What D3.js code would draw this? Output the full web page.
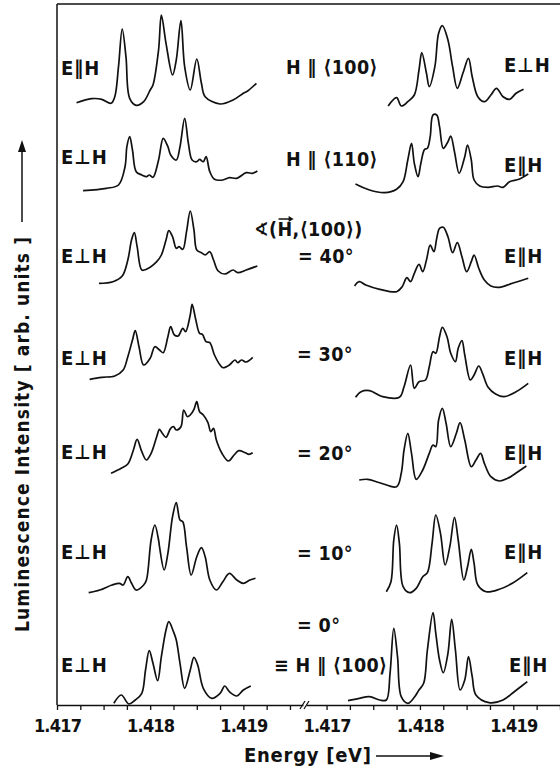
<!DOCTYPE html>
<html><head><meta charset="utf-8">
<script src="https://cdn.jsdelivr.net/npm/d3@7"></script>
<style>
html,body{margin:0;padding:0;background:#fff;}
svg{display:block;}
.t{font-family:"Liberation Sans Narrow","DejaVu Sans Condensed","Arial Narrow","Liberation Sans",sans-serif;font-weight:bold;fill:#111;}
</style></head>
<body>
<script>
// ---------- DATA (energy in eV, intensity in arb. units) ----------
// Left column, rows top (1) to bottom (7)
const enL1=[1.41721,1.41737,1.41748,1.41758,1.41762,1.41766,1.41770,1.41774,1.41778,1.41785,1.41793,1.41800,1.41803,1.41809,1.41812,1.41817,1.41824,1.41828,1.41833,1.41837,1.41843,1.41850,1.41855,1.41859,1.41875,1.41889,1.41900,1.41905,1.41914];
const inL1=[0.23,0.63,0.57,0.17,0.83,3.83,7.6,4.83,0.67,-0.03,0.33,1.5,2.0,5.5,9.0,6.17,3.0,4.5,8.43,3.83,1.5,4.6,2.17,0.83,0.1,0.5,1.17,1.43,2.17];
const enL2=[1.41728,1.41753,1.41766,1.41773,1.41775,1.41778,1.41781,1.41785,1.41791,1.41796,1.41799,1.41803,1.41809,1.41814,1.41819,1.41822,1.41828,1.41832,1.41837,1.41841,1.41845,1.41850,1.41853,1.41857,1.41860,1.41864,1.41869,1.41878,1.41885,1.41893,1.41903,1.41910,1.41915];
const inL2=[1.43,1.67,2.0,3.83,5.83,6.83,5.5,3.33,3.0,2.83,3.0,2.77,4.5,6.67,5.83,5.0,4.5,5.83,8.67,6.17,4.5,4.33,4.57,4.33,4.83,3.33,2.57,2.5,2.73,2.67,3.23,3.17,3.4];
const enL3=[1.41745,1.41760,1.41770,1.41776,1.41780,1.41783,1.41786,1.41791,1.41796,1.41807,1.41812,1.41817,1.41820,1.41824,1.41828,1.41831,1.41835,1.41839,1.41843,1.41847,1.41850,1.41855,1.41859,1.41864,1.41868,1.41873,1.41880,1.41889,1.41894,1.41903,1.41915];
const inL3=[2.17,2.33,2.9,4.5,6.5,7.23,5.83,3.5,3.57,4.33,5.0,6.5,7.43,6.83,5.67,5.83,5.57,7.33,9.4,7.5,5.5,5.23,5.0,5.33,4.5,3.4,3.1,3.5,3.23,3.5,3.9];
const enL4=[1.41735,1.41748,1.41762,1.41771,1.41776,1.41781,1.41784,1.41788,1.41793,1.41800,1.41805,1.41810,1.41814,1.41819,1.41822,1.41826,1.41830,1.41835,1.41838,1.41843,1.41845,1.41849,1.41853,1.41856,1.41860,1.41864,1.41869,1.41875,1.41878,1.41885,1.41891,1.41894,1.41898,1.41903,1.41910];
const inL4=[2.57,2.77,2.9,3.5,4.83,6.5,7.43,5.83,4.0,4.67,5.83,5.5,5.23,6.83,7.83,7.0,6.9,7.67,7.33,9.0,10.07,8.5,7.17,7.07,6.33,6.23,5.0,4.0,3.73,4.0,4.5,4.23,4.5,4.3,4.77];
const enL5=[1.41758,1.41769,1.41776,1.41782,1.41786,1.41791,1.41796,1.41801,1.41807,1.41810,1.41813,1.41817,1.41822,1.41825,1.41828,1.41833,1.41836,1.41840,1.41843,1.41847,1.41850,1.41853,1.41857,1.41862,1.41865,1.41868,1.41871,1.41877,1.41884,1.41890,1.41895,1.41902,1.41906,1.41910];
const inL5=[3.17,3.67,4.1,5.5,6.57,5.33,4.5,5.17,6.83,7.57,7.17,6.77,7.67,7.83,7.5,7.83,9.5,8.83,9.0,9.57,10.33,9.33,9.0,8.23,7.33,7.67,6.5,5.17,4.4,5.0,5.43,5.23,5.07,5.23];
const enL6=[1.41734,1.41746,1.41759,1.41767,1.41771,1.41776,1.41780,1.41785,1.41793,1.41796,1.41801,1.41805,1.41809,1.41810,1.41815,1.41819,1.41824,1.41828,1.41832,1.41835,1.41839,1.41844,1.41850,1.41855,1.41859,1.41864,1.41871,1.41878,1.41885,1.41893,1.41900,1.41907,1.41913];
const inL6=[1.23,1.5,2.0,2.17,2.0,2.83,2.17,1.5,2.0,2.5,6.5,8.0,6.5,5.83,3.5,5.17,8.83,10.23,8.5,8.33,5.83,3.0,4.83,5.73,4.83,2.5,1.5,2.33,3.17,2.5,2.17,2.5,2.67];
const enL7=[1.41761,1.41769,1.41777,1.41784,1.41791,1.41795,1.41799,1.41803,1.41808,1.41812,1.41817,1.41820,1.41825,1.41828,1.41832,1.41837,1.41843,1.41847,1.41851,1.41857,1.41866,1.41875,1.41880,1.41885,1.41893,1.41900,1.41908];
const inL7=[0.17,1.0,0.1,0.5,1.17,3.5,5.43,4.17,2.43,4.83,7.5,8.33,7.33,6.5,4.17,1.67,3.5,4.77,4.0,1.67,0.67,1.17,1.9,1.33,0.9,1.5,1.9];
// Right column
const enR1=[1.41766,1.41775,1.41780,1.41787,1.41794,1.41799,1.41802,1.41807,1.41810,1.41816,1.41820,1.41824,1.41830,1.41835,1.41840,1.41846,1.41852,1.41856,1.41862,1.41869,1.41876,1.41882,1.41889,1.41896,1.41903,1.41911];
const inR1=[-0.1,0.73,-0.1,0.33,1.0,3.5,5.23,3.17,1.83,3.83,7.17,7.93,6.5,3.83,1.67,3.17,4.67,2.83,0.83,0.33,1.0,1.67,0.83,0.57,1.17,1.57];
const enR2=[1.41731,1.41746,1.41762,1.41775,1.41782,1.41787,1.41791,1.41794,1.41798,1.41801,1.41805,1.41808,1.41811,1.41814,1.41818,1.41821,1.41825,1.41830,1.41833,1.41837,1.41842,1.41848,1.41851,1.41855,1.41858,1.41864,1.41873,1.41883,1.41889,1.41896,1.41906,1.41916];
const inR2=[2.1,1.5,1.23,1.57,2.33,4.5,6.17,4.17,2.83,4.17,5.57,5.67,6.83,9.0,9.0,7.83,5.67,6.33,6.9,5.33,3.17,4.83,6.0,4.5,2.5,1.9,1.77,1.9,1.77,2.33,2.57,3.1];
const enR3=[1.41730,1.41735,1.41742,1.41757,1.41775,1.41781,1.41786,1.41790,1.41794,1.41799,1.41803,1.41807,1.41811,1.41815,1.41818,1.41821,1.41825,1.41830,1.41835,1.41840,1.41845,1.41850,1.41855,1.41858,1.41863,1.41869,1.41876,1.41885,1.41899,1.41916];
const inR3=[1.9,2.33,2.0,1.57,1.33,1.83,2.73,2.33,3.17,4.07,3.33,4.5,6.0,5.33,6.67,7.67,7.77,6.83,5.23,6.23,4.83,3.33,4.33,5.0,3.67,2.5,1.9,1.77,2.17,2.67];
const enR4=[1.41731,1.41737,1.41746,1.41760,1.41778,1.41783,1.41790,1.41794,1.41799,1.41806,1.41810,1.41814,1.41817,1.41821,1.41824,1.41829,1.41833,1.41838,1.41841,1.41845,1.41848,1.41854,1.41858,1.41863,1.41867,1.41873,1.41881,1.41890,1.41903,1.41916];
const inR4=[0.77,1.33,1.43,0.83,0.77,1.83,4.0,1.67,2.33,2.5,3.83,5.33,5.17,6.83,7.77,6.83,5.17,4.33,5.67,6.43,5.0,2.5,3.0,3.9,3.17,1.77,1.1,0.83,1.33,2.17];
const enR5=[1.41735,1.41744,1.41757,1.41775,1.41780,1.41783,1.41787,1.41791,1.41796,1.41803,1.41810,1.41814,1.41817,1.41820,1.41824,1.41828,1.41833,1.41839,1.41843,1.41848,1.41855,1.41860,1.41865,1.41869,1.41876,1.41885,1.41894,1.41905,1.41914];
const inR5=[2.5,2.57,2.23,1.83,3.17,5.5,7.17,5.17,2.57,3.5,5.17,6.0,5.83,8.5,9.67,8.17,5.83,7.17,8.23,6.5,3.83,4.5,5.17,4.17,2.83,2.4,2.67,3.33,3.9];
const enR6=[1.41764,1.41769,1.41772,1.41775,1.41778,1.41782,1.41789,1.41796,1.41803,1.41808,1.41813,1.41817,1.41822,1.41827,1.41832,1.41837,1.41841,1.41847,1.41851,1.41855,1.41858,1.41862,1.41871,1.41885,1.41899,1.41915];
const inR6=[1.33,2.33,6.5,8.0,6.17,1.83,1.23,1.67,2.83,3.23,6.17,9.0,7.17,4.0,5.83,8.77,6.5,2.5,3.83,5.57,4.17,2.0,1.33,1.57,2.17,3.23];
const enR7=[1.41723,1.41735,1.41746,1.41757,1.41764,1.41768,1.41772,1.41776,1.41780,1.41787,1.41794,1.41799,1.41804,1.41808,1.41814,1.41817,1.41821,1.41825,1.41830,1.41834,1.41838,1.41843,1.41848,1.41852,1.41856,1.41860,1.41874,1.41889,1.41901,1.41915];
const inR7=[0.43,0.67,0.83,0.5,0.5,3.17,7.67,4.83,0.83,0.17,0.77,1.5,2.17,5.5,9.23,7.17,4.5,3.23,5.17,8.57,5.5,1.5,2.5,4.83,2.83,1.0,0.23,0.5,1.33,2.33];

const rowOffsets=[60,50,40,30,20,10,0];
const leftLabels=["E∥H","E⊥H","E⊥H","E⊥H","E⊥H","E⊥H","E⊥H"];
const rightLabels=["E⊥H","E∥H","E∥H","E∥H","E∥H","E∥H","E∥H"];
const tickLabels=["1.417","1.418","1.419"];
const majorTicks=[1.417,1.418,1.419];

// ---------- CHART ----------
const W=560,H=770;
const svg=d3.select("body").append("svg").attr("width",W).attr("height",H);
const axisY=705;
const y=d3.scaleLinear().domain([0,70]).range([axisY,5]);
const xL=d3.scaleLinear().domain([1.417,1.41964]).range([57,303]);
const xR=d3.scaleLinear().domain([1.41678,1.4195]).range([306,560]);

const leftE=[enL1,enL2,enL3,enL4,enL5,enL6,enL7], leftI=[inL1,inL2,inL3,inL4,inL5,inL6,inL7];
const rightE=[enR1,enR2,enR3,enR4,enR5,enR6,enR7], rightI=[inR1,inR2,inR3,inR4,inR5,inR6,inR7];

function drawSpec(xs,es,is,off){
  const pts=es.map((e,k)=>({e,i:is[k]}));
  const line=d3.line().x(d=>xs(d.e)).y(d=>y(off+d.i)).curve(d3.curveCatmullRom.alpha(0.5));
  svg.append("path").attr("d",line(pts)).attr("fill","none").attr("stroke","#111")
    .attr("stroke-width",1.7).attr("stroke-linejoin","round");
}
rowOffsets.forEach((off,r)=>{
  drawSpec(xL,leftE[r],leftI[r],off);
  drawSpec(xR,rightE[r],rightI[r],off);
});

// frame
svg.append("line").attr("x1",57).attr("x2",560).attr("y1",4).attr("y2",4).attr("stroke","#111").attr("stroke-width",1.5);
svg.append("line").attr("x1",57).attr("x2",57).attr("y1",4).attr("y2",axisY).attr("stroke","#111").attr("stroke-width",1.5);

// axes
function ticksFor(a,b){const t=[];for(let v=a;v<=b+1e-9;v+=0.00025)t.push(+v.toFixed(5));return t;}
const fmt=v=>{const k=majorTicks.findIndex(m=>Math.abs(m-v)<1e-7);return k>=0?tickLabels[k]:"";};
const gL=svg.append("g").attr("transform",`translate(0,${axisY})`)
  .call(d3.axisBottom(xL).tickValues(ticksFor(1.417,1.4195)).tickSize(5).tickSizeOuter(0).tickPadding(9).tickFormat(fmt));
const gR=svg.append("g").attr("transform",`translate(0,${axisY})`)
  .call(d3.axisBottom(xR).tickValues(ticksFor(1.417,1.4195)).tickSize(5).tickSizeOuter(0).tickPadding(9).tickFormat(fmt));
[gL,gR].forEach(g=>{
  g.select(".domain").attr("stroke","#111").attr("stroke-width",1.5);
  g.selectAll(".tick line").attr("stroke","#111").attr("stroke-width",1.3);
  g.selectAll(".tick text").attr("class","t").style("font-size","18px").attr("fill","#111").attr("letter-spacing","-0.8");
});
// axis break marks
[[301,304],[305,308]].forEach(([a,b])=>{
  svg.append("line").attr("x1",a-1).attr("y1",axisY+4).attr("x2",b+1).attr("y2",axisY-4).attr("stroke","#111").attr("stroke-width",1.3);
});

// row labels
const lBase=[75,164,263,365,459,559,672];
const rBase=[72,172,263,365,460,559,672];
leftLabels.forEach((s,r)=>svg.append("text").attr("class","t").attr("x",61).attr("y",lBase[r]).style("font-size","20px").attr("letter-spacing","1").text(s));
rightLabels.forEach((s,r)=>svg.append("text").attr("class","t").attr("x",r===6?509:504).attr("y",rBase[r]).style("font-size","20px").attr("letter-spacing","1").text(s));

// middle annotations
const mid=[
  {x:286,y:74,s:"H ∥ ⟨100⟩"},
  {x:286,y:166,s:"H ∥ ⟨110⟩"},
  {x:254,y:236,s:"∢(H,⟨100⟩)"},
  {x:298,y:263,s:"= 40°"},
  {x:297,y:361,s:"= 30°"},
  {x:297,y:460,s:"= 20°"},
  {x:297,y:560,s:"= 10°"},
  {x:297,y:632,s:"= 0°"},
  {x:274,y:672,s:"≡ H ∥ ⟨100⟩"}
];
const midSel=mid.map(m=>svg.append("text").attr("class","t").attr("x",m.x).attr("y",m.y).style("font-size","19.5px").attr("letter-spacing","0.4").text(m.s));
// vector arrow over H in the angle annotation
(function(){
  const n=midSel[2].node();
  let hx=268,hw=13;
  try{ hx=254+n.getSubStringLength(0,2); hw=n.getSubStringLength(2,1);}catch(e){}
  const ay=219;
  svg.append("line").attr("x1",hx+1).attr("x2",hx+hw-2).attr("y1",ay).attr("y2",ay).attr("stroke","#111").attr("stroke-width",1.5);
  svg.append("path").attr("d",`M${hx+hw-4},${ay-3} L${hx+hw+1},${ay} L${hx+hw-4},${ay+3} Z`).attr("fill","#111");
})();

// axis titles
svg.append("text").attr("class","t").attr("transform","translate(29,632) rotate(-90)")
  .style("font-size","19px").attr("textLength",395).attr("lengthAdjust","spacing")
  .text("Luminescence  Intensity  [ arb. units ]");
svg.append("line").attr("x1",22).attr("x2",22).attr("y1",222).attr("y2",150).attr("stroke","#111").attr("stroke-width",1.5);
svg.append("path").attr("d","M18,152 L22,140 L26,152 Z").attr("fill","#111");

svg.append("text").attr("class","t").attr("x",244).attr("y",762).style("font-size","20px").attr("textLength",127).attr("lengthAdjust","spacing").text("Energy  [eV]");
svg.append("line").attr("x1",376).attr("x2",432).attr("y1",756).attr("y2",756).attr("stroke","#111").attr("stroke-width",1.5);
svg.append("path").attr("d","M430,752 L444,756 L430,760 Z").attr("fill","#111");
</script>
</body></html>
